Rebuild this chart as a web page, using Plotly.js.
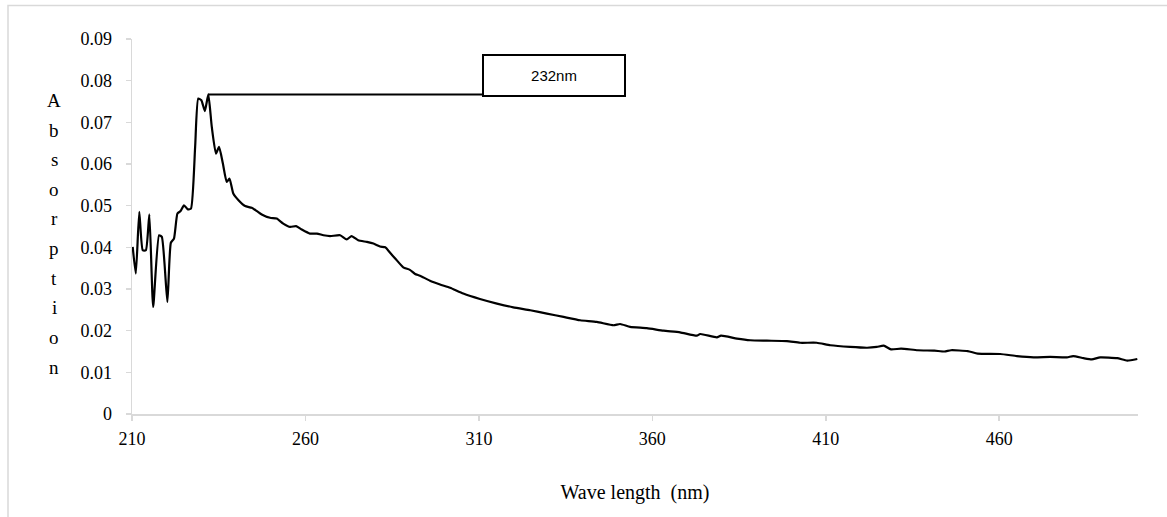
<!DOCTYPE html>
<html>
<head>
<meta charset="utf-8">
<script src="https://cdn.plot.ly/plotly-3.0.1.min.js"></script>
<style>html,body{margin:0;padding:0;background:#fff;}#chart{width:1167px;height:517px;}</style>
</head>
<body>
<div id="chart"></div>
<script>
// Wavelength (nm)
const wavelength = [
  210.2, 211.1, 212.1, 213.1, 214.0, 215.0, 216.1, 217.8, 218.6, 220.2,
  221.2, 222.1, 223.1, 224.0, 225.0, 226.1, 227.0, 228.2, 229.1, 230.0,
  231.0, 232.0, 233.0, 234.2, 235.1, 236.2, 237.3, 238.1, 239.2, 240.7,
  242.6, 244.5, 246.0, 247.4, 249.8, 251.7, 253.6, 255.6, 257.3, 258.9,
  261.3, 263.3, 265.2, 267.1, 270.0, 271.9, 273.3, 275.2, 277.7, 279.6,
  281.5, 283.0, 284.4, 286.0, 288.2, 290.1, 291.6, 293.0, 295.9, 298.8,
  301.7, 305.5, 310.3, 315.2, 319.9, 324.8, 329.6, 334.4, 339.2, 344.0,
  348.8, 350.7, 353.6, 358.4, 363.2, 368.0, 372.8, 373.8, 378.6, 379.8,
  384.4, 388.2, 393.0, 398.8, 402.6, 407.4, 411.3, 417.0, 421.9, 424.7,
  426.7, 428.8, 431.7, 436.5, 441.3, 444.2, 446.1, 450.9, 453.8, 460.3,
  465.1, 469.9, 474.7, 479.5, 481.3, 484.3, 486.7, 489.1, 494.0, 496.9,
  499.8
];
// Absorption
const absorption = [
  0.0401, 0.0337, 0.0485, 0.0393, 0.0393, 0.0479, 0.0257, 0.0429, 0.0425, 0.0269,
  0.0411, 0.0421, 0.0481, 0.0487, 0.0501, 0.0491, 0.0493, 0.0641, 0.0757, 0.0753,
  0.0727, 0.0767, 0.0689, 0.0625, 0.0641, 0.0601, 0.0557, 0.0565, 0.0529, 0.0513,
  0.0499, 0.0495, 0.0487, 0.0479, 0.0471, 0.0469, 0.0457, 0.0449, 0.0451, 0.0443,
  0.0433, 0.0433, 0.0429, 0.0427, 0.0429, 0.0419, 0.0427, 0.0417, 0.0413, 0.0409,
  0.0402, 0.0400, 0.0387, 0.0372, 0.0352, 0.0346, 0.0336, 0.0332, 0.0320, 0.0311,
  0.0303, 0.0289, 0.0276, 0.0265, 0.0256, 0.0249, 0.0241, 0.0233, 0.0225, 0.0221,
  0.0213, 0.0216, 0.0209, 0.0206, 0.0200, 0.0196, 0.0188, 0.0192, 0.0184, 0.0188,
  0.0181, 0.0177, 0.0176, 0.0175, 0.0171, 0.0171, 0.0165, 0.0161, 0.0159, 0.0161,
  0.0164, 0.0155, 0.0157, 0.0153, 0.0152, 0.0150, 0.0153, 0.0151, 0.0145, 0.0144,
  0.0139, 0.0136, 0.0137, 0.0136, 0.0139, 0.0134, 0.0131, 0.0136, 0.0134, 0.0128,
  0.0132
];
const xTickVals = [210, 260, 310, 360, 410, 460];
const yTickVals = [0, 0.01, 0.02, 0.03, 0.04, 0.05, 0.06, 0.07, 0.08, 0.09];
const yTickText = ['0', '0.01', '0.02', '0.03', '0.04', '0.05', '0.06', '0.07', '0.08', '0.09'];
const peakLabel = '232nm';
const xTitle = 'Wave length  (nm)';
const yTitle = 'Absorption';

// peak from data
let pk = 0;
for (let i = 1; i < absorption.length; i++) if (absorption[i] > absorption[pk]) pk = i;

const serif = 'Liberation Serif, Times New Roman, serif';

// stacked y-title letters
const letters = yTitle.split('');
const topPx = 100, botPx = 367, plotTop = 38.5, plotBot = 414;
const yAnn = letters.map((ch, i) => {
  const py = topPx + i * (botPx - topPx) / (letters.length - 1);
  return {
    text: ch, xref: 'paper', yref: 'paper',
    x: (54 - 132) / 1006, y: (plotBot - py) / (plotBot - plotTop),
    xanchor: 'center', yanchor: 'middle', showarrow: false,
    font: {family: serif, size: 19, color: '#000'}
  };
});

const layout = {
  width: 1167, height: 517,
  margin: {l: 132, r: 29, t: 38.5, b: 103},
  paper_bgcolor: '#fff', plot_bgcolor: '#fff',
  showlegend: false,
  xaxis: {
    range: [210, 500], tickvals: xTickVals, ticktext: xTickVals.map(String),
    showgrid: false, zeroline: false,
    showline: true, linecolor: '#d9d9d9', linewidth: 1.5,
    ticks: 'outside', ticklen: 5, tickcolor: '#d9d9d9', tickwidth: 1.5,
    tickfont: {family: serif, size: 18, color: '#000'},
    ticklabelstandoff: 3,
    title: {text: xTitle, font: {family: serif, size: 20, color: '#000'}, standoff: 37}
  },
  yaxis: {
    range: [0, 0.09], tickvals: yTickVals, ticktext: yTickText,
    showgrid: false, zeroline: false,
    showline: true, linecolor: '#d9d9d9', linewidth: 1.5,
    ticks: 'outside', ticklen: 5, tickcolor: '#d9d9d9', tickwidth: 1.5,
    tickfont: {family: serif, size: 18, color: '#000'},
    ticklabelstandoff: 10
  },
  shapes: [
    {type: 'rect', xref: 'paper', yref: 'paper',
     x0: (8 - 132) / 1006, x1: 1.1, y0: -0.5, y1: (414 - 5) / 375.5,
     line: {color: '#d9d9d9', width: 1.5}, fillcolor: 'rgba(0,0,0,0)', layer: 'below'},
    {type: 'line', xref: 'x', yref: 'y',
     x0: wavelength[pk], y0: absorption[pk], x1: 310.9, y1: absorption[pk],
     line: {color: '#000', width: 2}}
  ],
  annotations: yAnn.concat([
    {text: peakLabel, xref: 'x', yref: 'y', x: 331.6, y: 0.0813,
     xanchor: 'center', yanchor: 'middle', showarrow: false,
     width: 140, height: 39, bgcolor: '#fff',
     bordercolor: '#000', borderwidth: 2, borderpad: 0,
     font: {family: 'Liberation Sans, Arial, sans-serif', size: 15, color: '#000'}}
  ])
};

const trace = {
  x: wavelength, y: absorption, type: 'scatter', mode: 'lines',
  line: {color: '#000', width: 2.2, shape: 'spline', smoothing: 0.5},
  hoverinfo: 'x+y'
};

Plotly.newPlot('chart', [trace], layout, {displayModeBar: false, staticPlot: true});
</script>
</body>
</html>
